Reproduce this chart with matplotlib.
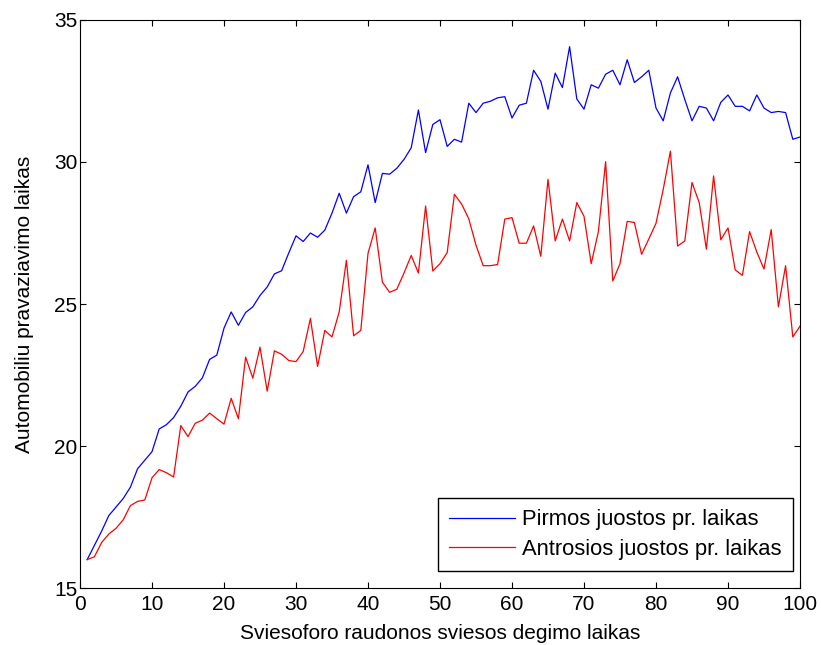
import matplotlib
matplotlib.use("Agg")
import matplotlib.pyplot as plt
import numpy as np

x = list(range(1, 101))
blue = [16.0, 16.5, 17.0, 17.55, 17.85, 18.15, 18.55, 19.2, 19.5, 19.8,
        20.6, 20.75, 21.0, 21.4, 21.9, 22.1, 22.4, 23.05, 23.2, 24.15,
        24.72, 24.25, 24.7, 24.9, 25.3, 25.6, 26.06, 26.17, 26.8, 27.4,
        27.2, 27.5, 27.35, 27.6, 28.2, 28.9, 28.2, 28.78, 28.95, 29.9,
        28.57, 29.6, 29.57, 29.78, 30.09, 30.5, 31.83, 30.33, 31.32, 31.49,
        30.55, 30.8, 30.7, 32.07, 31.74, 32.07, 32.14, 32.26, 32.3, 31.55,
        32.0, 32.07, 33.23, 32.84, 31.86, 33.13, 32.62, 34.06, 32.22, 31.86,
        32.72, 32.6, 33.09, 33.23, 32.72, 33.6, 32.8, 33.0, 33.23, 31.9,
        31.45, 32.43, 33.0, 32.2, 31.45, 31.96, 31.9, 31.45, 32.1, 32.36,
        31.96, 31.96, 31.8, 32.36, 31.9, 31.74, 31.78, 31.74, 30.8, 30.88]
red = [16.0, 16.1, 16.6, 16.9, 17.1, 17.4, 17.9, 18.05, 18.1, 18.88,
       19.17, 19.06, 18.91, 20.72, 20.33, 20.8, 20.91, 21.16, 20.96, 20.77,
       21.68, 20.96, 23.13, 22.39, 23.48, 21.93, 23.35, 23.23, 23.01, 22.97,
       23.33, 24.49, 22.8, 24.07, 23.84, 24.72, 26.54, 23.88, 24.07, 26.78,
       27.68, 25.77, 25.41, 25.52, 26.09, 26.71, 26.09, 28.45, 26.16, 26.42,
       26.81, 28.86, 28.52, 28.0, 27.07, 26.35, 26.35, 26.39, 27.99, 28.04,
       27.14, 27.14, 27.75, 26.68, 29.39, 27.22, 27.99, 27.22, 28.57, 28.09,
       26.42, 27.55, 30.01, 25.81, 26.42, 27.91, 27.87, 26.75, 27.29, 27.84,
       29.03, 30.38, 27.04, 27.22, 29.28, 28.57, 26.93, 29.51, 27.26, 27.68,
       26.2, 26.01, 27.55, 26.83, 26.23, 27.62, 24.9, 26.35, 23.84, 24.22]
labels = ["Pirmos juostos pr. laikas", "Antrosios juostos pr. laikas"]
xticks = list(range(0, 101, 10))
yticks = [15, 20, 25, 30, 35]

FS = 15
plt.rcParams['font.family'] = ['Liberation Sans', 'DejaVu Sans']
fig = plt.figure(figsize=(8.21, 6.45), dpi=100)
ax = fig.add_axes([80/821, 1-588/645, 720/821, 568/645])
ax.plot(x, blue, color='#0000ff', lw=0.9, label=labels[0])
ax.plot(x, red, color='#ff0000', lw=0.9, label=labels[1])
ax.set_xlim(0, 100)
ax.set_ylim(15, 35)
ax.set_xticks(xticks)
ax.set_yticks(yticks)
ax.tick_params(direction='in', top=True, right=True, labelsize=FS, length=4, width=0.8)
ax.tick_params(axis='x', pad=5)
ax.tick_params(axis='y', pad=2)
for s in ax.spines.values():
    s.set_linewidth(0.8)
ax.set_xlabel("Sviesoforo raudonos sviesos degimo laikas", fontsize=FS, labelpad=7)
ax.set_ylabel("Automobiliu pravaziavimo laikas", fontsize=FS, labelpad=14)
leg = ax.legend(loc='lower right', bbox_to_anchor=(0.990, 0.030), borderaxespad=0,
                fontsize=15.8, fancybox=False, framealpha=1, edgecolor='black',
                handlelength=3.0, handletextpad=0.35, labelspacing=0.4, borderpad=0.5)
leg.get_frame().set_linewidth(1.0)
fig.savefig("out.png", dpi=100)
